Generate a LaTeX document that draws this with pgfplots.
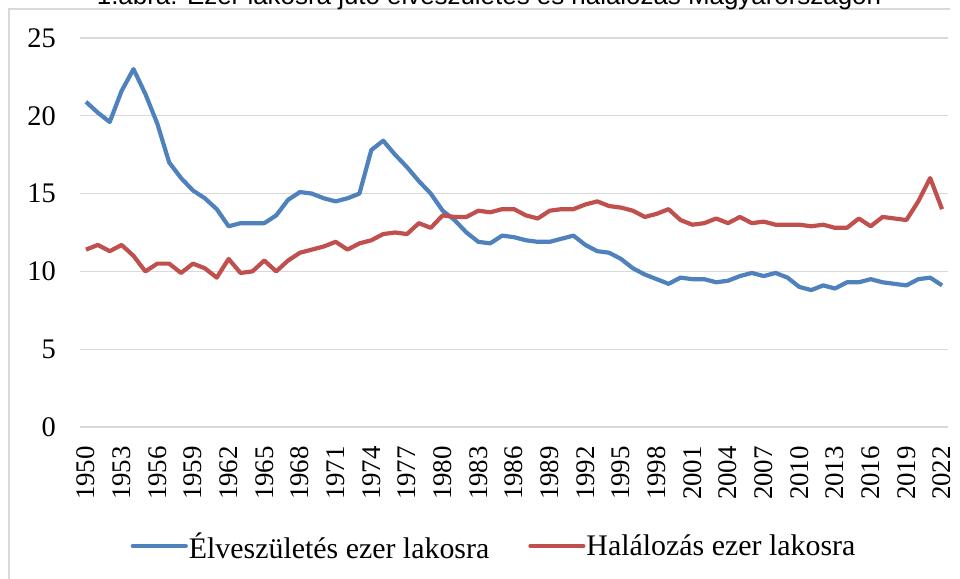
\documentclass[border=0pt]{standalone}
\usepackage{fontspec}
\setmainfont{Liberation Serif}
\newfontfamily\titlefont{Liberation Sans}
\usepackage{pgfplots}
\pgfplotsset{compat=1.18}
\definecolor{cblue}{HTML}{4F81BD}
\definecolor{cred}{HTML}{C0504D}
\definecolor{cgrid}{HTML}{D9D9D9}

\begin{document}
\begin{tikzpicture}
\useasboundingbox (0bp,0bp) rectangle (960bp,579bp);
\draw[cgrid, line width=1.3bp] (9bp,0bp) -- (9bp,570bp) -- (950bp,570bp);
\node[anchor=base, font=\titlefont\fontsize{26}{30}\selectfont, inner sep=0pt] at (489bp,574bp) {1.ábra: Ezer lakosra jutó élveszületés és halálozás Magyarországon};
\begin{axis}[
  at={(80bp,152bp)}, anchor=south west,
  scale only axis, width=868bp, height=389bp,
  xmin=1949.5, xmax=2022.5, ymin=0, ymax=25,
  xtick={1950,1953,...,2022},
  ytick={0,5,...,25},
  x tick label style={/pgf/number format/1000 sep={}},
  /pgf/number format/assume math mode=true,
  ymajorgrids, grid style={cgrid, line width=1.3bp},
  axis line style={draw=none},
  major tick length=0pt,
  tick label style={font=\fontsize{27}{30}\selectfont, inner sep=0pt},
  xticklabel style={rotate=90, anchor=east},
  yticklabel style={anchor=east, font=\fontsize{28.5}{32}\selectfont},
  xticklabel shift=19bp,
  yticklabel shift=24bp,
  legend columns=2,
  legend style={at={(0.4764,-0.306)}, anchor=center, draw=none, fill=none,
    font=\fontsize{30}{34}\selectfont, inner sep=0pt,
    /tikz/every even column/.append style={column sep=38bp},
    nodes={inner sep=1bp}},
  legend image code/.code={\draw[#1, line width=4.2bp, line cap=round] (0bp,0bp) -- (53bp,0bp);},
  every axis plot/.append style={line width=4.2bp, line join=round, mark=none},
]
\addplot[cblue] coordinates {
(1950,20.9)(1951,20.2)(1952,19.6)(1953,21.6)(1954,23.0)(1955,21.4)(1956,19.5)(1957,17.0)(1958,16.0)(1959,15.2)
(1960,14.7)(1961,14.0)(1962,12.9)(1963,13.1)(1964,13.1)(1965,13.1)(1966,13.6)(1967,14.6)(1968,15.1)(1969,15.0)
(1970,14.7)(1971,14.5)(1972,14.7)(1973,15.0)(1974,17.8)(1975,18.4)(1976,17.5)(1977,16.7)(1978,15.8)(1979,15.0)
(1980,13.9)(1981,13.3)(1982,12.5)(1983,11.9)(1984,11.8)(1985,12.3)(1986,12.2)(1987,12.0)(1988,11.9)(1989,11.9)
(1990,12.1)(1991,12.3)(1992,11.7)(1993,11.3)(1994,11.2)(1995,10.8)(1996,10.2)(1997,9.8)(1998,9.5)(1999,9.2)
(2000,9.6)(2001,9.5)(2002,9.5)(2003,9.3)(2004,9.4)(2005,9.7)(2006,9.9)(2007,9.7)(2008,9.9)(2009,9.6)
(2010,9.0)(2011,8.8)(2012,9.1)(2013,8.9)(2014,9.3)(2015,9.3)(2016,9.5)(2017,9.3)(2018,9.2)(2019,9.1)
(2020,9.5)(2021,9.6)(2022,9.1)
};
\addlegendentry{Élveszületés ezer lakosra}
\addplot[cred] coordinates {
(1950,11.4)(1951,11.7)(1952,11.3)(1953,11.7)(1954,11.0)(1955,10.0)(1956,10.5)(1957,10.5)(1958,9.9)(1959,10.5)
(1960,10.2)(1961,9.6)(1962,10.8)(1963,9.9)(1964,10.0)(1965,10.7)(1966,10.0)(1967,10.7)(1968,11.2)(1969,11.4)
(1970,11.6)(1971,11.9)(1972,11.4)(1973,11.8)(1974,12.0)(1975,12.4)(1976,12.5)(1977,12.4)(1978,13.1)(1979,12.8)
(1980,13.6)(1981,13.5)(1982,13.5)(1983,13.9)(1984,13.8)(1985,14.0)(1986,14.0)(1987,13.6)(1988,13.4)(1989,13.9)
(1990,14.0)(1991,14.0)(1992,14.3)(1993,14.5)(1994,14.2)(1995,14.1)(1996,13.9)(1997,13.5)(1998,13.7)(1999,14.0)
(2000,13.3)(2001,13.0)(2002,13.1)(2003,13.4)(2004,13.1)(2005,13.5)(2006,13.1)(2007,13.2)(2008,13.0)(2009,13.0)
(2010,13.0)(2011,12.9)(2012,13.0)(2013,12.8)(2014,12.8)(2015,13.4)(2016,12.9)(2017,13.5)(2018,13.4)(2019,13.3)
(2020,14.5)(2021,16.0)(2022,14.0)
};
\addlegendentry{Halálozás ezer lakosra}
\end{axis}
\end{tikzpicture}
\end{document}
